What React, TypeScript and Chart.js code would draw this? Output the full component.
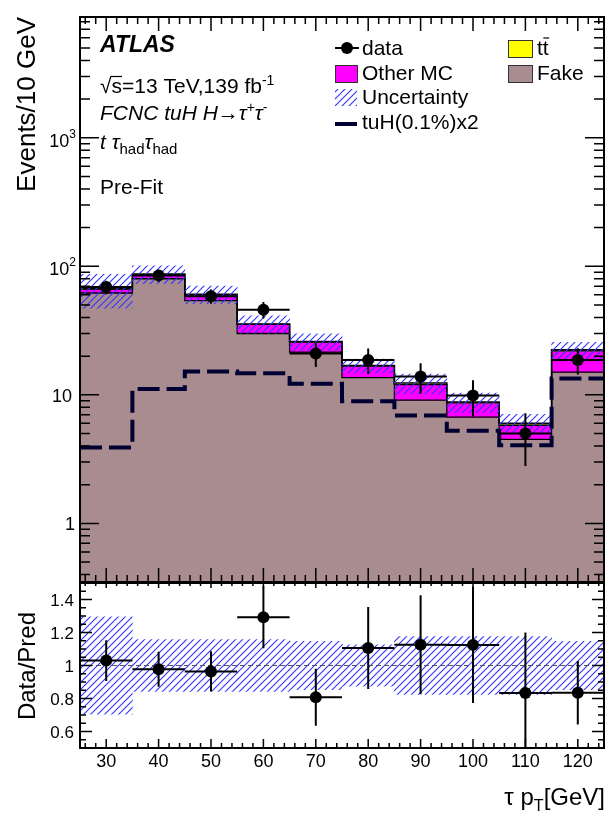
import React, { useEffect, useRef } from 'react';
import { Chart, registerables } from 'chart.js';

Chart.register(...registerables);

const W = 610;
const H = 819;
const FONT = '"Liberation Sans", Arial, Helvetica, sans-serif';

// ---------------- data ----------------
const binCenters = [30, 40, 50, 60, 70, 80, 90, 100, 110, 120];
const binHalfWidth = 5;
const fake = [62, 80, 54, 30, 21.5, 13.6, 9.1, 6.7, 4.5, 15];
const otherMC = [4.5, 6.3, 6.1, 5.3, 4.2, 3.1, 2.9, 1.95, 1.3, 7.0];
const ttbar = [0.5, 0.7, 0.6, 0.3, 0.3, 0.2, 0.35, 0.15, 0.2, 0.4];
const dataVals = [69, 85, 58.5, 46, 21, 18.7, 13.9, 9.9, 5.0, 18.7];
const dataErr = [8.3, 9.2, 7.4, 6.7, 4.5, 4.2, 3.7, 3.1, 2.2, 4.3];
const signalTuH = [3.9, 11.1, 15.2, 14.7, 12.2, 8.9, 6.9, 5.25, 4.05, 13.4];
const relUnc = [0.295, 0.157, 0.157, 0.157, 0.147, 0.125, 0.175, 0.175, 0.175, 0.146];

const xTickValues = [30, 40, 50, 60, 70, 80, 90, 100, 110, 120];
const xTickLabels = ['30', '40', '50', '60', '70', '80', '90', '100', '110', '120'];
const mainTickValues = [1, 10, 100, 1000];
const mainTickBase = ['1', '10', '10', '10'];
const mainTickExp = ['', '', '2', '3'];
const ratioTickValues = [0.6, 0.8, 1, 1.2, 1.4];
const ratioTickLabels = ['0.6', '0.8', '1', '1.2', '1.4'];

const X_MIN = 25, X_MAX = 125;
const Y_MIN = 0.35, Y_MAX = 8700;
const R_MIN = 0.5, R_MAX = 1.5;

const C_FAKE = '#a98c8f';
const C_OTHER = '#ff00ff';
const C_TTBAR = '#ffff00';
const C_SIG = '#000033';
const C_HATCH = '#3535ff';

// ---------------- derived tables ----------------
const cumOther = fake.map((f, i) => f + otherMC[i]);
const total = cumOther.map((v, i) => v + ttbar[i]);
const edges = binCenters.map((c) => c - binHalfWidth).concat([binCenters[binCenters.length - 1] + binHalfWidth]);
const stepPts = (vals: number[]) => edges.map((e, i) => ({ x: e, y: vals[Math.min(i, vals.length - 1)] }));

type Part = { t: string; size: number; style?: string; dy?: number };
function setFont(ctx: CanvasRenderingContext2D, p: Part) {
  ctx.font = `${p.style ?? ''} ${p.size}px ${FONT}`;
}
function richWidth(ctx: CanvasRenderingContext2D, parts: Part[]) {
  let w = 0;
  for (const p of parts) { setFont(ctx, p); w += ctx.measureText(p.t).width; }
  return w;
}
function drawRich(ctx: CanvasRenderingContext2D, parts: Part[], x: number, y: number, align = 'left') {
  const w = richWidth(ctx, parts);
  let cx = align === 'right' ? x - w : align === 'center' ? x - w / 2 : x;
  ctx.textAlign = 'left';
  ctx.textBaseline = 'alphabetic';
  const pos: number[] = [];
  for (const p of parts) {
    setFont(ctx, p);
    pos.push(cx);
    ctx.fillText(p.t, cx, y + (p.dy ?? 0));
    cx += ctx.measureText(p.t).width;
  }
  pos.push(cx);
  return pos;
}

function makeHatch(ctx: CanvasRenderingContext2D) {
  const s = 7;
  const c = document.createElement('canvas');
  c.width = s; c.height = s;
  const g = c.getContext('2d')!;
  g.strokeStyle = C_HATCH;
  g.lineWidth = 1.15;
  g.beginPath();
  g.moveTo(0, s); g.lineTo(s, 0);
  g.moveTo(-s / 2, s / 2); g.lineTo(s / 2, -s / 2);
  g.moveTo(s / 2, s + s / 2); g.lineTo(s + s / 2, s / 2);
  g.stroke();
  return ctx.createPattern(c, 'repeat')!;
}

const xScaleOpts = {
  type: 'linear',
  min: X_MIN,
  max: X_MAX,
  display: false,
  offset: false,
  stacked: true,
  afterBuildTicks: (s: any) => { s.ticks = binCenters.map((v) => ({ value: v })); },
};

const barCommon = { type: 'bar', borderWidth: 0, barPercentage: 1, categoryPercentage: 1 };

function drawXTicks(ctx: CanvasRenderingContext2D, chart: any, topMaj: number, topMin: number, botMaj: number, botMin: number) {
  const a = chart.chartArea;
  const x = chart.scales.x;
  for (let v = 26; v <= 124; v += 2) {
    const px = x.getPixelForValue(v);
    const major = xTickValues.includes(v);
    ctx.moveTo(px, a.bottom); ctx.lineTo(px, a.bottom - (major ? botMaj : botMin));
    ctx.moveTo(px, a.top); ctx.lineTo(px, a.top + (major ? topMaj : topMin));
  }
}

function mainPlugin(hatch: CanvasPattern) {
  return {
    id: 'mainDeco',
    afterDatasetsDraw(chart: any) {
      const { ctx, chartArea: a, scales } = chart;
      const x = scales.x, y = scales.y;
      ctx.save();
      ctx.beginPath(); ctx.rect(a.left, a.top, a.right - a.left, a.bottom - a.top); ctx.clip();
      ctx.strokeStyle = '#000';
      ctx.lineWidth = 2;
      ctx.beginPath();
      binCenters.forEach((c, i) => {
        const px = x.getPixelForValue(c);
        ctx.moveTo(px, y.getPixelForValue(dataVals[i] - dataErr[i]));
        ctx.lineTo(px, y.getPixelForValue(dataVals[i] + dataErr[i]));
        const py = y.getPixelForValue(dataVals[i]);
        ctx.moveTo(x.getPixelForValue(c - binHalfWidth), py);
        ctx.lineTo(x.getPixelForValue(c + binHalfWidth), py);
      });
      ctx.stroke();
      ctx.restore();
    },
    afterDraw(chart: any) {
      const { ctx, chartArea: a, scales } = chart;
      const y = scales.y;
      ctx.save();
      ctx.strokeStyle = '#000';
      ctx.lineWidth = 1.5;
      ctx.beginPath();
      drawXTicks(ctx, chart, 14, 7, 14, 7);
      for (let e = -1; e <= 3; e++) {
        for (let k = 1; k <= 9; k++) {
          const v = k * Math.pow(10, e);
          if (v < Y_MIN || v > Y_MAX) continue;
          const py = y.getPixelForValue(v);
          const len = k === 1 ? 19 : 10;
          ctx.moveTo(a.left, py); ctx.lineTo(a.left + len, py);
          ctx.moveTo(a.right, py); ctx.lineTo(a.right - len, py);
        }
      }
      ctx.stroke();
      ctx.lineWidth = 2;
      ctx.strokeRect(a.left, a.top, a.right - a.left, a.bottom - a.top);

      ctx.fillStyle = '#000';
      mainTickValues.forEach((v, i) => {
        const py = y.getPixelForValue(v);
        if (mainTickExp[i]) {
          drawRich(ctx, [{ t: mainTickBase[i], size: 18 }, { t: mainTickExp[i], size: 12, dy: -9 }], 76, py + 9, 'right');
        } else {
          drawRich(ctx, [{ t: mainTickBase[i], size: 18 }], i === 0 ? 75 : 72, py + 7, 'right');
        }
      });
      ctx.save();
      ctx.translate(35, 17);
      ctx.rotate(-Math.PI / 2);
      ctx.font = `26px ${FONT}`;
      ctx.textAlign = 'right';
      ctx.textBaseline = 'alphabetic';
      ctx.fillText('Events/10 GeV', 0, 0);
      ctx.restore();

      drawRich(ctx, [{ t: 'ATLAS', size: 23, style: 'italic bold' }], 100, 52);
      const sq = drawRich(ctx, [{ t: '√', size: 21 }, { t: 's', size: 21 }, { t: '=13 TeV,139 fb', size: 21 }, { t: '-1', size: 14, dy: -8 }], 100, 93);
      ctx.lineWidth = 1.2;
      ctx.beginPath();
      ctx.moveTo(sq[1] - 1, 93 - 16.5); ctx.lineTo(sq[2], 93 - 16.5);
      ctx.stroke();
      drawRich(ctx, [
        { t: 'FCNC tuH H', size: 21, style: 'italic' },
        { t: '→', size: 21 },
        { t: 'τ', size: 21, style: 'italic' },
        { t: '+', size: 14, dy: -8 },
        { t: 'τ', size: 21, style: 'italic' },
        { t: '-', size: 14, dy: -8 },
      ], 100, 120);
      drawRich(ctx, [
        { t: 't ', size: 21, style: 'italic' },
        { t: 'τ', size: 21, style: 'italic' },
        { t: 'had', size: 15, dy: 5 },
        { t: 'τ', size: 21, style: 'italic' },
        { t: 'had', size: 15, dy: 5 },
      ], 100, 149);
      drawRich(ctx, [{ t: 'Pre-Fit', size: 21 }], 100, 194);

      // legend
      ctx.strokeStyle = '#000';
      ctx.lineWidth = 2;
      ctx.beginPath(); ctx.moveTo(335, 48); ctx.lineTo(359, 48); ctx.stroke();
      ctx.beginPath(); ctx.arc(347, 48, 6, 0, Math.PI * 2); ctx.fill();
      drawRich(ctx, [{ t: 'data', size: 21 }], 362, 55);

      ctx.lineWidth = 1;
      ctx.strokeStyle = '#333';
      ctx.fillStyle = C_OTHER;
      ctx.fillRect(335, 65, 22, 17); ctx.strokeRect(335.5, 65.5, 22, 17);
      ctx.fillStyle = '#000';
      drawRich(ctx, [{ t: 'Other MC', size: 21 }], 362, 80);

      ctx.fillStyle = hatch;
      ctx.fillRect(335, 89, 22, 17);
      ctx.fillStyle = '#000';
      drawRich(ctx, [{ t: 'Uncertainty', size: 21 }], 362, 104);

      ctx.strokeStyle = C_SIG;
      ctx.lineWidth = 4;
      ctx.beginPath(); ctx.moveTo(335, 124); ctx.lineTo(357, 124); ctx.stroke();
      drawRich(ctx, [{ t: 'tuH(0.1%)x2', size: 21 }], 362, 129);

      ctx.lineWidth = 1;
      ctx.strokeStyle = '#333';
      ctx.fillStyle = C_TTBAR;
      ctx.fillRect(508, 40, 24, 17); ctx.strokeRect(508.5, 40.5, 24, 17);
      ctx.fillStyle = '#000';
      const tt = drawRich(ctx, [{ t: 't', size: 21 }, { t: 't', size: 21 }], 537, 55);
      ctx.strokeStyle = '#000';
      ctx.lineWidth = 1.2;
      ctx.beginPath(); ctx.moveTo(tt[1] + 0.5, 55 - 17); ctx.lineTo(tt[2] + 0.5, 55 - 17); ctx.stroke();

      ctx.strokeStyle = '#333';
      ctx.lineWidth = 1;
      ctx.fillStyle = C_FAKE;
      ctx.fillRect(508, 65, 24, 17); ctx.strokeRect(508.5, 65.5, 24, 17);
      ctx.fillStyle = '#000';
      drawRich(ctx, [{ t: 'Fake', size: 21 }], 537, 80);
      ctx.restore();
    },
  };
}

function ratioPlugin() {
  return {
    id: 'ratioDeco',
    afterDatasetsDraw(chart: any) {
      const { ctx, chartArea: a, scales } = chart;
      const x = scales.x, y = scales.y;
      ctx.save();
      ctx.beginPath(); ctx.rect(a.left, a.top, a.right - a.left, a.bottom - a.top); ctx.clip();
      ctx.strokeStyle = '#000';
      ctx.lineWidth = 2;
      ctx.beginPath();
      binCenters.forEach((c, i) => {
        const r = dataVals[i] / total[i];
        const e = dataErr[i] / total[i];
        const px = x.getPixelForValue(c);
        ctx.moveTo(px, y.getPixelForValue(r - e));
        ctx.lineTo(px, y.getPixelForValue(r + e));
        const py = y.getPixelForValue(r);
        ctx.moveTo(x.getPixelForValue(c - binHalfWidth), py);
        ctx.lineTo(x.getPixelForValue(c + binHalfWidth), py);
      });
      ctx.stroke();
      ctx.restore();
    },
    afterDraw(chart: any) {
      const { ctx, chartArea: a, scales } = chart;
      const x = scales.x, y = scales.y;
      ctx.save();
      ctx.strokeStyle = '#000';
      ctx.lineWidth = 1.5;
      ctx.beginPath();
      drawXTicks(ctx, chart, 5, 3, 9, 5);
      for (let i = 10; i <= 30; i++) {
        const v = i * 0.05;
        const py = y.getPixelForValue(v);
        const len = i % 4 === 0 ? 12 : 6;
        ctx.moveTo(a.left, py); ctx.lineTo(a.left + len, py);
        ctx.moveTo(a.right, py); ctx.lineTo(a.right - len, py);
      }
      ctx.stroke();
      ctx.lineWidth = 2;
      ctx.strokeRect(a.left, a.top, a.right - a.left, a.bottom - a.top);

      ctx.fillStyle = '#000';
      ratioTickValues.forEach((v, i) => {
        drawRich(ctx, [{ t: ratioTickLabels[i], size: 17 }], 74, y.getPixelForValue(v) + 6, 'right');
      });
      xTickValues.forEach((v, i) => {
        drawRich(ctx, [{ t: xTickLabels[i], size: 18 }], x.getPixelForValue(v), 767, 'center');
      });
      drawRich(ctx, [{ t: 'τ p', size: 24 }, { t: 'T', size: 16, dy: 6 }, { t: '[GeV]', size: 24 }], 605, 805, 'right');

      ctx.save();
      ctx.translate(35, 612);
      ctx.rotate(-Math.PI / 2);
      ctx.font = `24px ${FONT}`;
      ctx.textAlign = 'right';
      ctx.textBaseline = 'alphabetic';
      ctx.fillText('Data/Pred', 0, 0);
      ctx.restore();
      ctx.restore();
    },
  };
}

export default function App() {
  const mainRef = useRef<HTMLCanvasElement>(null);
  const ratioRef = useRef<HTMLCanvasElement>(null);

  useEffect(() => {
    const mc = mainRef.current!;
    const rc = ratioRef.current!;
    const hatchMain = makeHatch(mc.getContext('2d')!);
    const hatchRatio = makeHatch(rc.getContext('2d')!);

    const main = new Chart(mc, {
      type: 'bar',
      data: {
        datasets: [
          { ...barCommon, label: 'Fake', data: binCenters.map((x, i) => ({ x, y: fake[i] })), backgroundColor: C_FAKE, order: 30 },
          { ...barCommon, label: 'Other MC', data: binCenters.map((x, i) => ({ x, y: [fake[i], cumOther[i]] })), backgroundColor: C_OTHER, order: 29 },
          { ...barCommon, label: 'ttbar', data: binCenters.map((x, i) => ({ x, y: [cumOther[i], total[i]] })), backgroundColor: C_TTBAR, order: 28 },
          { type: 'line', label: 'fake outline', data: stepPts(fake), borderColor: '#000', borderWidth: 1.3, pointRadius: 0, stepped: true, fill: false, order: 20 },
          { type: 'line', label: 'other outline', data: stepPts(cumOther), borderColor: '#000', borderWidth: 1.3, pointRadius: 0, stepped: true, fill: false, order: 19 },
          { type: 'line', label: 'total outline', data: stepPts(total), borderColor: '#000', borderWidth: 1.6, pointRadius: 0, stepped: true, fill: false, order: 18 },
          { ...barCommon, label: 'Uncertainty', data: binCenters.map((x, i) => ({ x, y: [total[i] * (1 - relUnc[i]), total[i] * (1 + relUnc[i])] })), backgroundColor: hatchMain, order: 12 },
          { type: 'line', label: 'tuH(0.1%)x2', data: stepPts(signalTuH), borderColor: C_SIG, borderWidth: 4, borderDash: [22, 7], borderCapStyle: 'butt', pointRadius: 0, stepped: true, fill: false, order: 10 },
          { type: 'line', label: 'data', data: binCenters.map((x, i) => ({ x, y: dataVals[i] })), showLine: false, pointRadius: 6, pointBackgroundColor: '#000', pointBorderColor: '#000', pointBorderWidth: 0, order: 0 },
        ],
      } as any,
      options: {
        responsive: false,
        animation: false,
        devicePixelRatio: 1,
        events: [],
        layout: { padding: { left: 80, right: W - 606, top: 17, bottom: H - 582 } },
        plugins: { legend: { display: false }, tooltip: { enabled: false } },
        scales: {
          x: xScaleOpts,
          y: { type: 'logarithmic', min: Y_MIN, max: Y_MAX, display: false, stacked: false, beginAtZero: false },
        },
      } as any,
      plugins: [mainPlugin(hatchMain)],
    } as any);

    const ratio = new Chart(rc, {
      type: 'bar',
      data: {
        datasets: [
          { ...barCommon, label: 'Uncertainty', data: binCenters.map((x, i) => ({ x, y: [1 - relUnc[i], 1 + relUnc[i]] })), backgroundColor: hatchRatio, order: 20 },
          { type: 'line', label: 'unity', data: [{ x: X_MIN, y: 1 }, { x: X_MAX, y: 1 }], borderColor: '#555', borderWidth: 1, borderDash: [5, 3], pointRadius: 0, fill: false, order: 10 },
          { type: 'line', label: 'Data/Pred', data: binCenters.map((x, i) => ({ x, y: dataVals[i] / total[i] })), showLine: false, pointRadius: 6, pointBackgroundColor: '#000', pointBorderColor: '#000', pointBorderWidth: 0, order: 0 },
        ],
      } as any,
      options: {
        responsive: false,
        animation: false,
        devicePixelRatio: 1,
        events: [],
        layout: { padding: { left: 80, right: W - 606, top: 583, bottom: H - 748 } },
        plugins: { legend: { display: false }, tooltip: { enabled: false } },
        scales: {
          x: xScaleOpts,
          y: { type: 'linear', min: R_MIN, max: R_MAX, display: false, stacked: false, beginAtZero: false },
        },
      } as any,
      plugins: [ratioPlugin()],
    } as any);

    return () => {
      main.destroy();
      ratio.destroy();
    };
  }, []);

  const cs: React.CSSProperties = { position: 'absolute', left: 0, top: 0, width: W, height: H };
  return (
    <div>
      <canvas ref={mainRef} width={W} height={H} style={cs} />
      <canvas ref={ratioRef} width={W} height={H} style={cs} />
    </div>
  );
}
